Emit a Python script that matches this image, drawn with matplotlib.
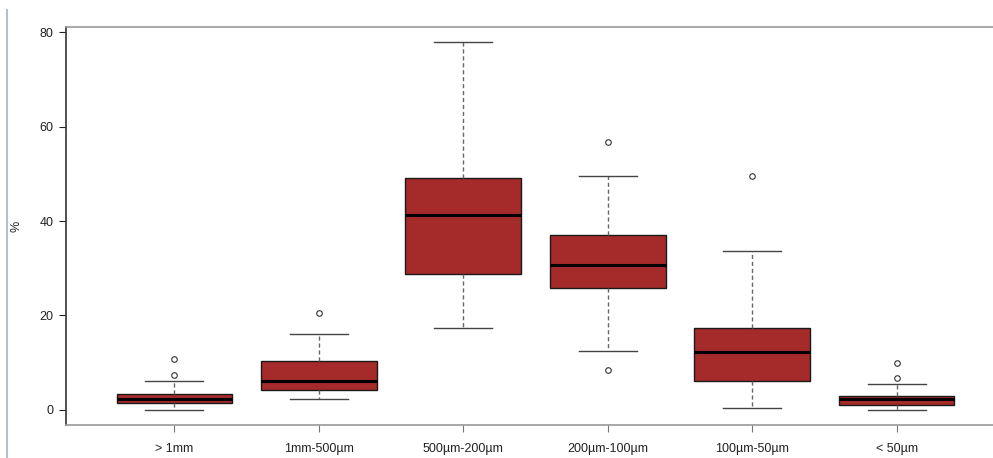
import matplotlib.pyplot as plt
from matplotlib.lines import Line2D

plt.rcParams['font.family'] = ['Liberation Sans', 'DejaVu Sans']

# size classes and box statistics
labels = ['> 1mm', '1mm-500µm', '500µm-200µm', '200µm-100µm', '100µm-50µm', '< 50µm']
whislo = [0.0, 2.3, 17.4, 12.5, 0.4, 0.0]
q1 = [1.4, 4.2, 28.8, 25.8, 6.1, 1.1]
med = [2.4, 6.2, 41.3, 30.6, 12.3, 2.4]
q3 = [3.4, 10.4, 49.2, 37.0, 17.4, 3.0]
whishi = [6.1, 16.1, 77.9, 49.6, 33.6, 5.4]
fliers = [[7.4, 10.7], [20.5], [], [8.5, 56.7], [49.6], [6.7, 9.9]]

stats = []
for i in range(len(labels)):
    stats.append(dict(label=labels[i], whislo=whislo[i], q1=q1[i], med=med[i],
                      q3=q3[i], whishi=whishi[i], fliers=fliers[i]))

fig = plt.figure(figsize=(9.93, 4.58), dpi=100)
ax = fig.add_axes([66/993, 33/458, 939/993, 398/458])

ax.bxp(stats, positions=range(1, 7), widths=0.8, patch_artist=True,
       boxprops=dict(facecolor='#A52A2A', edgecolor='#1a1a1a', linewidth=1),
       medianprops=dict(color='black', linewidth=2.2),
       whiskerprops=dict(color='#666666', linestyle=(0, (3, 2)), linewidth=1),
       capprops=dict(color='#444444', linewidth=1),
       flierprops=dict(marker='o', markersize=4, markerfacecolor='none',
                       markeredgecolor='#333333', markeredgewidth=0.8),
       capwidths=0.4)

ax.set_xlim(0.25, 6.75)
ax.set_ylim(-3.2, 81.1)
ax.set_yticks([0, 20, 40, 60, 80])
ax.set_xticks(range(1, 7))
ax.set_xticklabels(labels)
ax.tick_params(axis='y', labelsize=9, colors='#222222', length=5, pad=4)
ax.tick_params(axis='x', labelsize=9, colors='#777777', labelcolor='#222222',
               length=5, pad=8)
fig.text(17/993, 1 - 226/458, '%', fontsize=9, rotation=90,
         ha='center', va='center', color='#222222')

ax.spines['left'].set_color('#333333')
ax.spines['top'].set_color('#999999')
ax.spines['bottom'].set_color('#999999')
ax.spines['right'].set_visible(False)
for s in ax.spines.values():
    s.set_linewidth(1.2)

fig.add_artist(Line2D([7/993, 7/993], [0, 1 - 10/458], color='#b4bfcc', linewidth=1.5))

plt.savefig('out.png', dpi=100)
